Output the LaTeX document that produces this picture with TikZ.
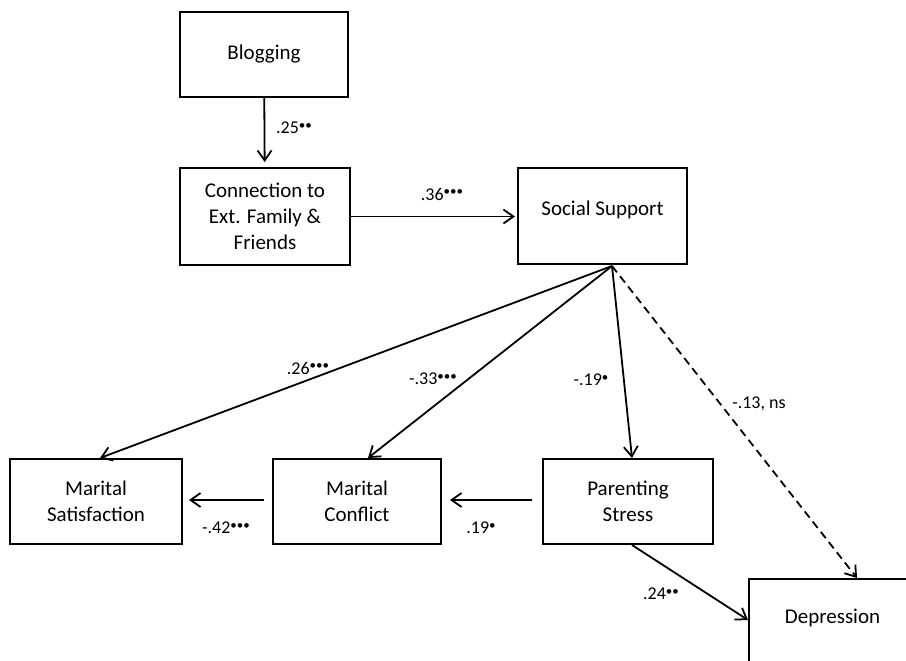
\documentclass[tikz,border=0pt]{standalone}
\usepackage{fontspec}
\setmainfont{Carlito}
\usepackage{tikz}
\usetikzlibrary{positioning, arrows.meta, calc}
\newcommand{\sigdots}[1]{\raisebox{2.2pt}{\fontsize{6.5}{6.5}\selectfont #1}}

\begin{document}
\begin{tikzpicture}[
      x=0.5pt, y=-0.5pt,
      box/.style={draw, line width=1pt, minimum width=85pt, minimum height=42.5pt, align=center, inner sep=0pt, font=\fontsize{10.5}{13}\selectfont},
      arr/.style={-{Straight Barb[length=5pt, width=7pt, line width=0.9pt]}, line width=0.9pt},
      coef/.style={font=\fontsize{9}{10.8}\selectfont, inner sep=0pt}
  ]
  \useasboundingbox (0,0) rectangle (906,660);
  \clip (0,0) rectangle (906,660);

  \node[box, minimum width=84pt] (blog) at (264,54.5) {Blogging};
  \node[box, minimum height=48.5pt] (conn) at (265,216.5) {Connection to\\Ext. Family \&\\Friends};
  \node[box, minimum width=84.5pt, minimum height=48pt, text depth=8pt] (social) at (602.5,216) {Social Support};
  \node[box, minimum width=86pt] (sat) at (96,501.5) {Marital\\Satisfaction};
  \node[box, minimum width=84pt] (conf) at (357,501.5) {Marital\\Conflict};
  \node[box] (stress) at (628,501.5) {Parenting\\Stress};
  \node[box, minimum width=83.5pt, minimum height=43pt, text depth=6pt] (dep) at (832.5,622) {Depression};
  \coordinate (hub) at ($(social.south)+(9.5,1)$);

  \draw[arr, shorten >=2.5pt] (blog) -- (conn);
  \draw[arr, shorten >=1pt] (conn) -- (social.west |- conn.east);
  \draw[arr] (hub) -- ($(sat.north)+(4,0)$);
  \draw[arr] (hub) -- ($(conf.north)+(11,0)$);
  \draw[arr] (hub) -- ($(stress.north)+(4,0)$);
  \draw[arr, dash pattern=on 4pt off 2.5pt] (hub) -- ($(dep.north)+(24.5,0)$);
  \draw[arr] ($(stress.south)+(4,0)$) -- ($(dep.west)+(0,-2)$);
  \draw[arr, shorten <=5pt, shorten >=4pt] ($(stress.west)+(0,-1.5)$) -- ($(conf.east)+(0,-1.5)$);
  \draw[arr, shorten <=4pt, shorten >=3pt] ($(conf.west)+(0,-1.5)$) -- ($(sat.east)+(0,-1.5)$);

  \node[coef] (c25) at (294,128) {.25\sigdots{••}};
  \node[coef] (c36) at (442,194) {.36\sigdots{•••}};
  \node[coef] (c26) at (308,368) {.26\sigdots{•••}};
  \node[coef] (c33) at (433,379) {-.33\sigdots{•••}};
  \node[coef] (c19a) at (591,380) {-.19\sigdots{•}};
  \node[coef] (c13) at (759,404) {-.13, ns};
  \node[coef] (c42) at (226,528) {-.42\sigdots{•••}};
  \node[coef] (c19b) at (481,528) {.19\sigdots{•}};
  \node[coef] (c24) at (661,594) {.24\sigdots{••}};
  \end{tikzpicture}
\end{document}
